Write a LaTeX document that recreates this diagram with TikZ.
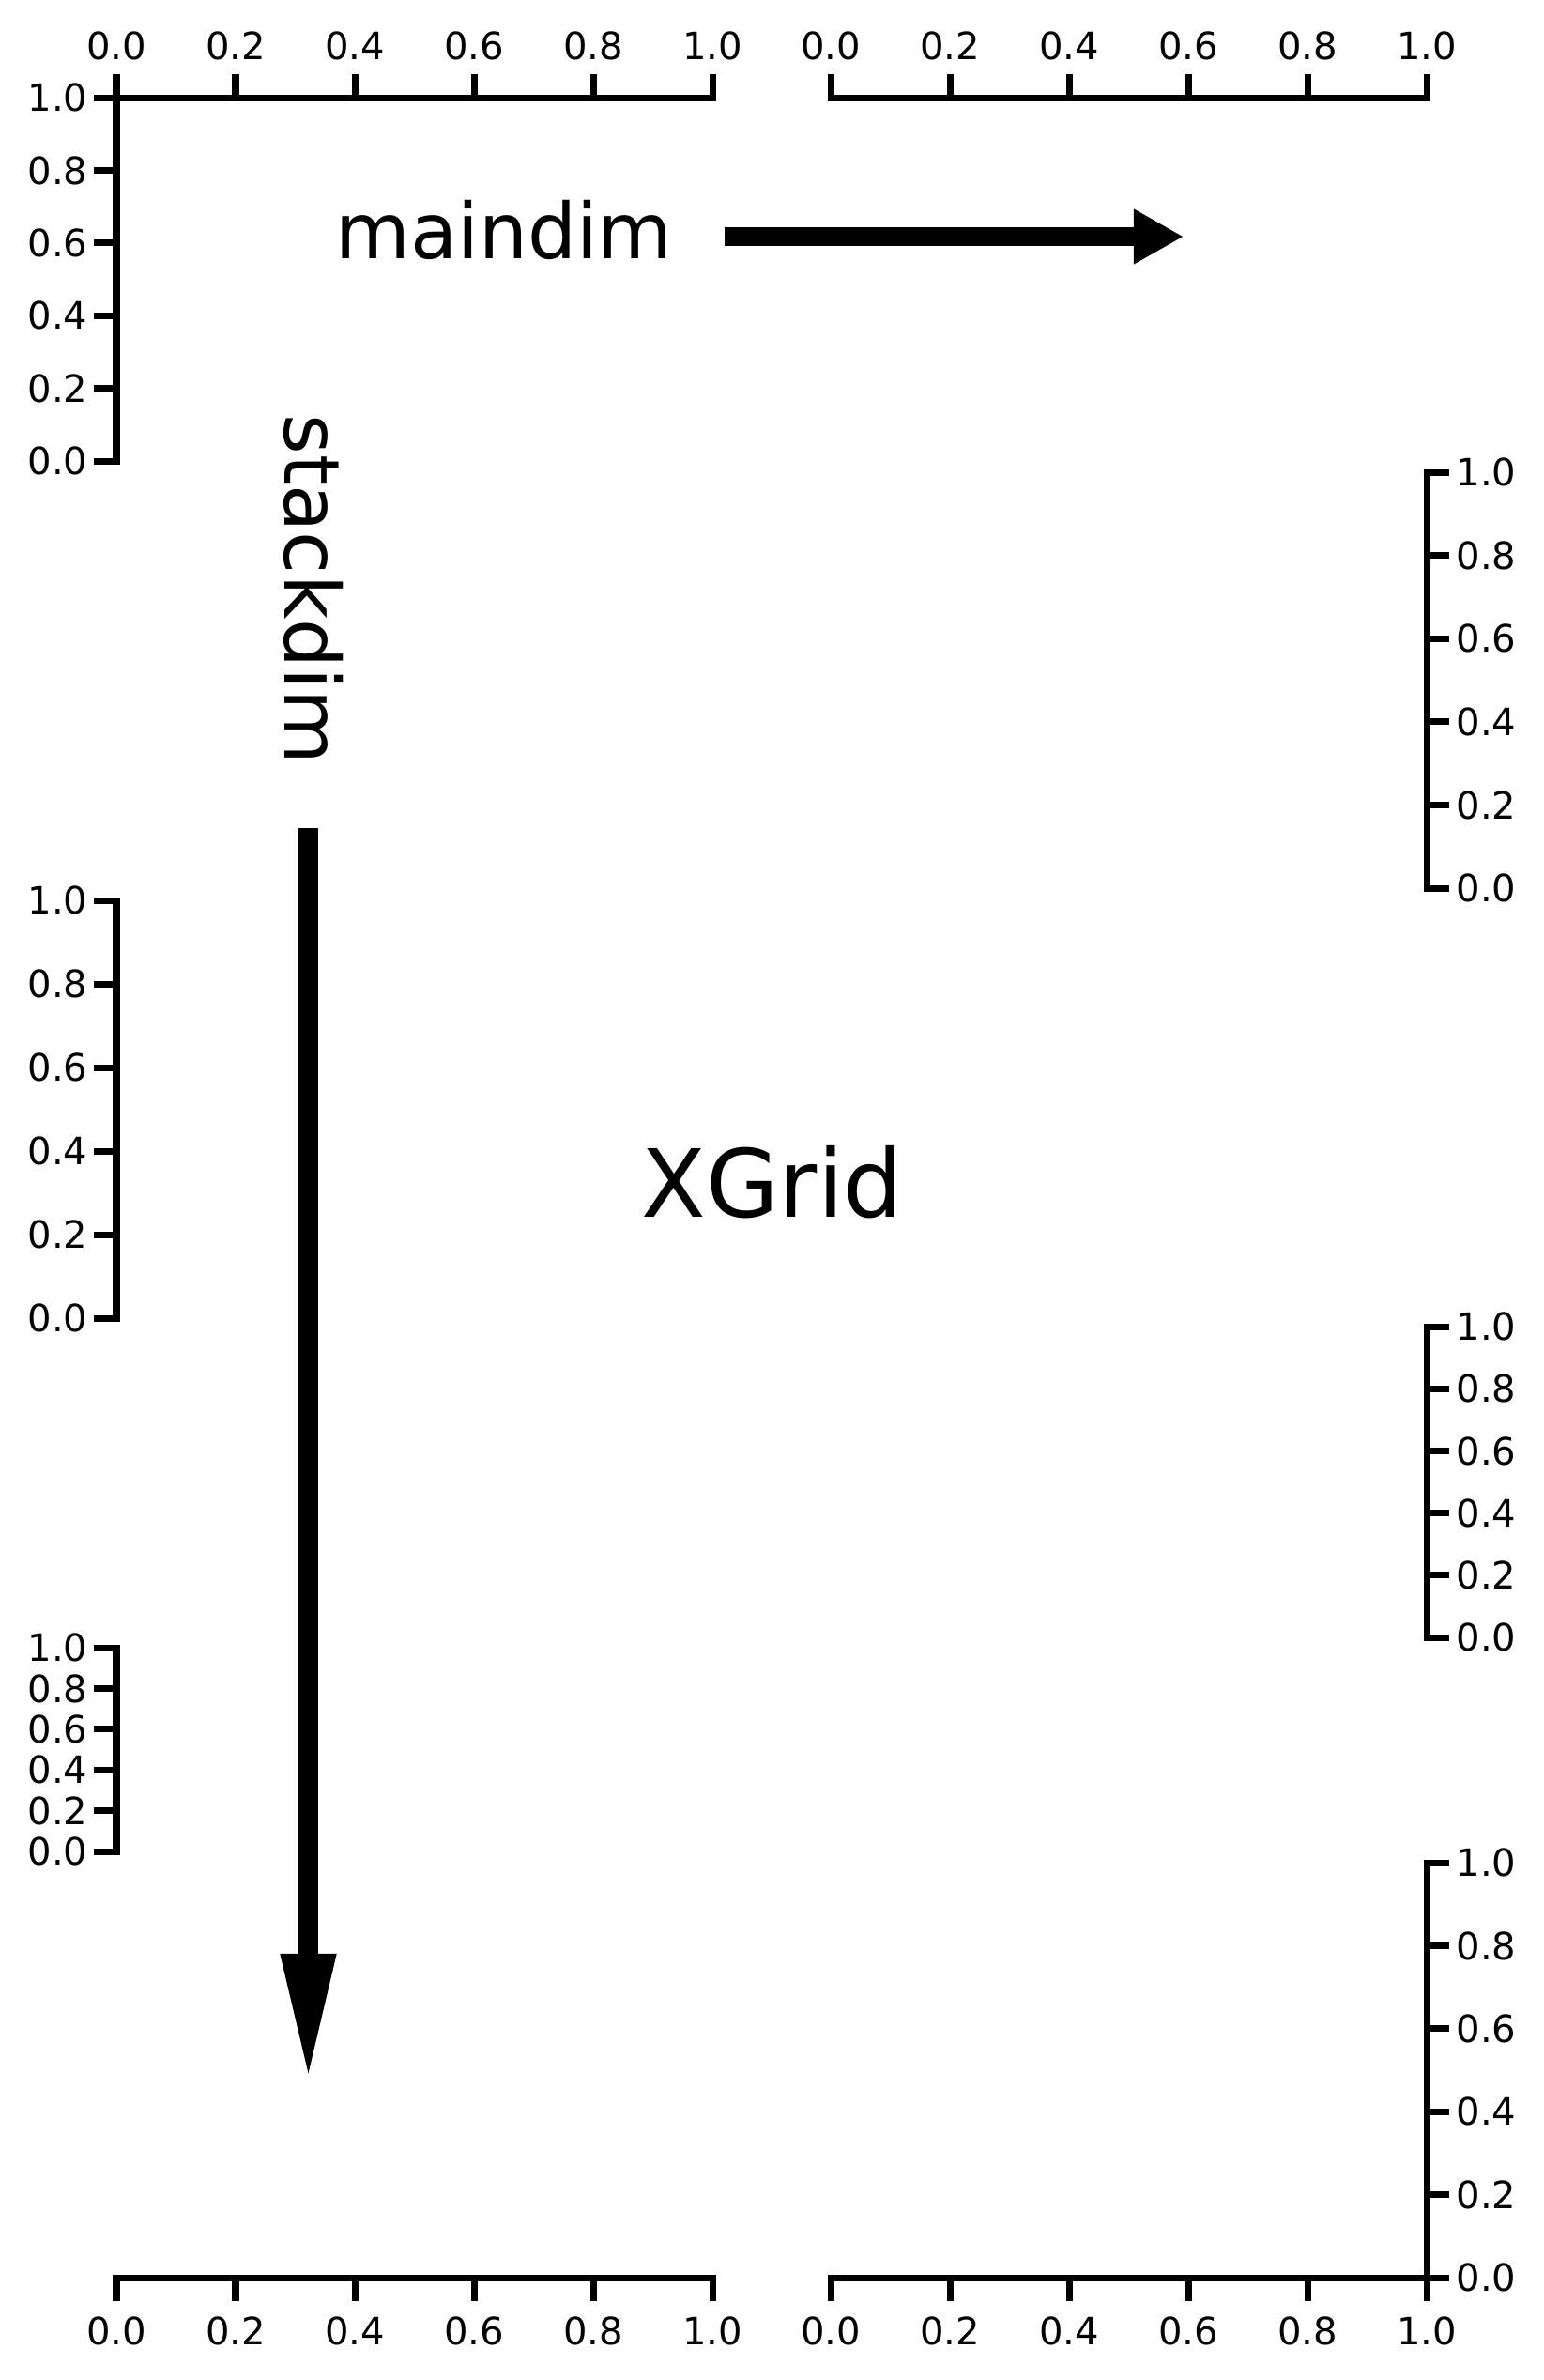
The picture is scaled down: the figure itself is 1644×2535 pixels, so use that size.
\documentclass[tikz,border=0pt]{standalone}
\usepackage{fontspec}
\setmainfont{DejaVu Sans}
\usetikzlibrary{arrows.meta, positioning}

\tikzset{
  spine/.style={line width=0.07cm, line cap=rect},
  tickmark/.style={line width=0.07cm},
  ticklab/.style={font=\fontsize{11.4pt}{13pt}\selectfont, inner sep=0pt},
  dimlab/.style={font=\fontsize{23.3pt}{28pt}\selectfont, inner sep=0pt},
  gridlab/.style={font=\fontsize{28.5pt}{34pt}\selectfont, inner sep=0pt},
  dimarrow/.style={line width=0.2cm}
}

% horizontal axis: #1 x of 0.0, #2 y, #3 tick direction, #4 label y, #5 anchor, #6 name
\newcommand{\haxis}[6]{%
  \draw[spine] (#1,#2) -- ({#1+635},#2);
  \foreach \i/\lab in {0/0.0,1/0.2,2/0.4,3/0.6,4/0.8,5/1.0}{
    \draw[tickmark] ({#1+127*\i},#2) -- ++(0,{25*#3});
    \node[ticklab, anchor=#5] (#6-\i) at ({#1+127*\i},#4) {\lab};
  }}

% vertical axis: #1 x, #2 y of 1.0, #3 y of 0.0, #4 tick direction, #5 label x, #6 anchor, #7 name
\newcommand{\vaxis}[7]{%
  \draw[spine] (#1,#2) -- (#1,#3);
  \foreach \i/\lab in {0/0.0,1/0.2,2/0.4,3/0.6,4/0.8,5/1.0}{
    \draw[tickmark] (#1,{#3+(#2-#3)*\i/5}) -- ++({24*#4},0);
    \node[ticklab, anchor=#6] (#7-\i) at (#5,{#3+(#2-#3)*\i/5}) {\lab};
  }}

\begin{document}
\begin{tikzpicture}[x=0.01cm, y=-0.01cm]
  \useasboundingbox (0,0) rectangle (1644,2535);

  % top axes
  \haxis{124}{104}{-1}{63}{base}{topleft}
  \haxis{885}{104}{-1}{63}{base}{topright}
  \vaxis{124}{104}{491}{-1}{94}{east}{lefttop}

  % left axes
  \vaxis{124}{959}{1404}{-1}{94}{east}{leftmid}
  \vaxis{124}{1755}{1972}{-1}{94}{east}{leftlow}

  % right axes
  \vaxis{1520}{503}{946}{1}{1551}{west}{righttop}
  \vaxis{1520}{1413}{1744}{1}{1551}{west}{rightmid}
  \vaxis{1520}{1984}{2426}{1}{1551}{west}{rightlow}

  % bottom axes
  \haxis{124}{2426}{1}{2467}{north}{botleft}
  \haxis{885}{2426}{1}{2467}{north}{botright}

  % labels
  \node[dimlab, anchor=base] (maindim) at (537,275) {maindim};
  \node[dimlab, anchor=base, rotate=-90] (stackdim) at (303,628) {stackdim};
  \node[gridlab, anchor=base] (xgrid) at (823,1296) {XGrid};

  % direction arrows
  \coordinate (mainfrom) at (772,252);
  \coordinate (mainto) at (1261,252);
  \coordinate (stackfrom) at (328.5,882);
  \coordinate (stackto) at (328.5,2216);
  \draw[dimarrow, -{Triangle[length=0.53cm, width=0.55cm]}] (mainfrom) -- (mainto);
  \draw[dimarrow, -{Triangle[length=1.35cm, width=0.54cm]}] (stackfrom) -- (stackto);
\end{tikzpicture}
\end{document}
